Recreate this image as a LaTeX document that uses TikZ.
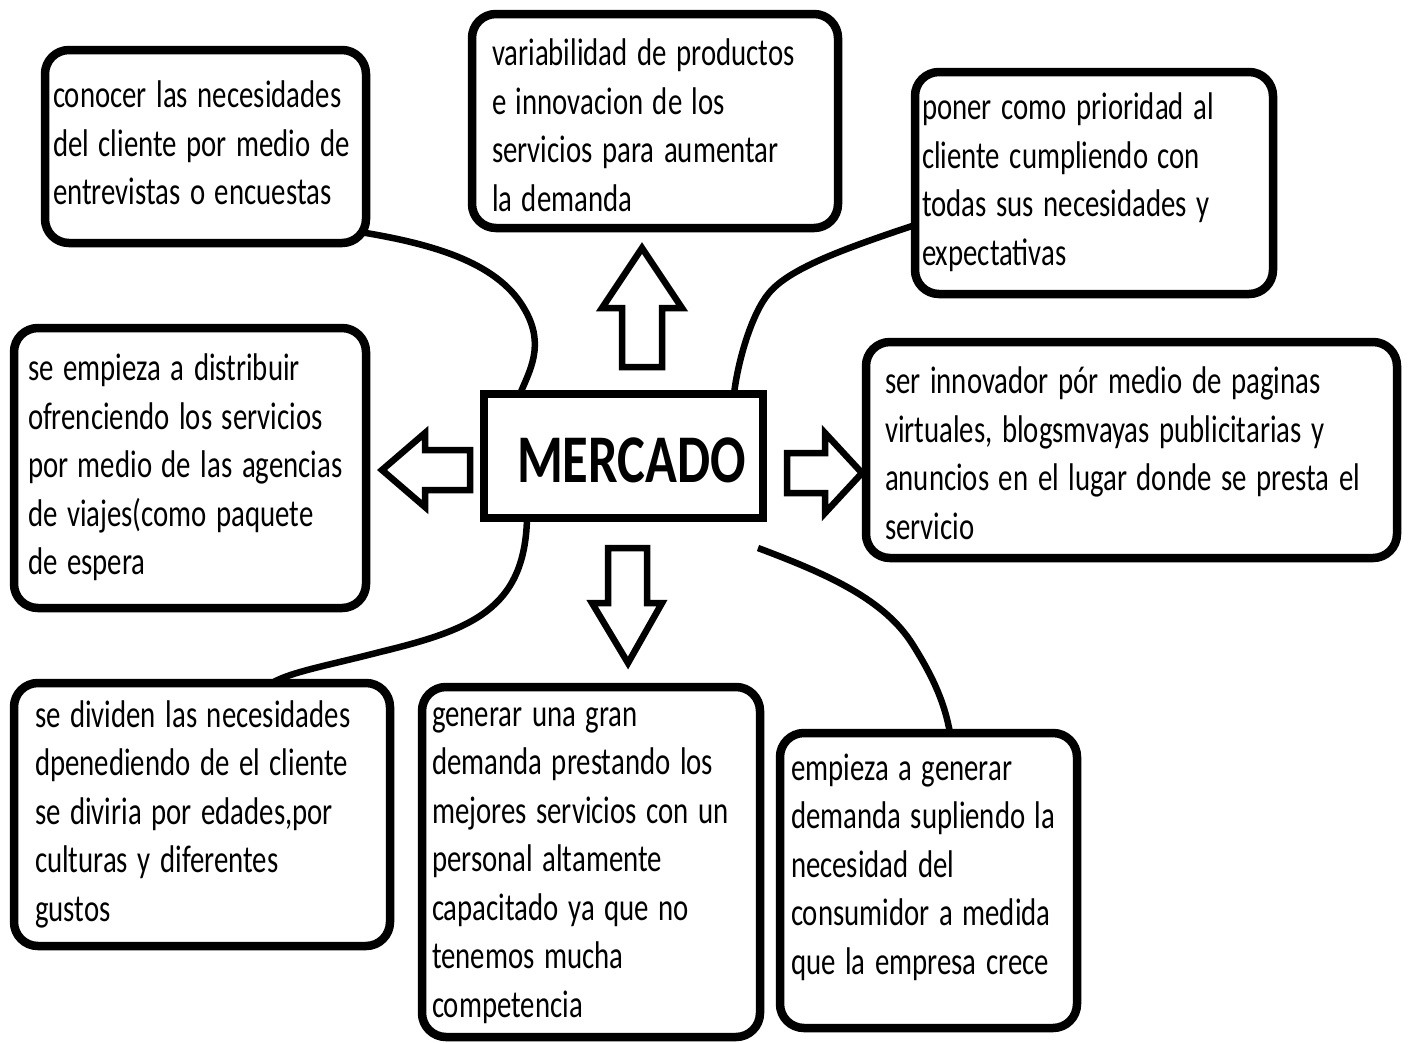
\documentclass[tikz,border=0pt]{standalone}
\usepackage{fontspec}
\setmainfont{Carlito}
\usetikzlibrary{calc}
\newcommand{\estirado}[2][0pt]{\raisebox{#1}[\height][\depth]{\scalebox{1}[1.34]{\begin{tabular}{@{}l@{}}#2\end{tabular}}}}

\tikzset{
  burbuja/.style={draw, line width=8.5pt, rounded corners=24pt, outer sep=0pt,
    align=left, inner ysep=0pt, font=\fontsize{28.8}{36.2}\selectfont},
  enlace/.style={line width=6.5pt},
  flecha/.style={draw, line width=6.5pt, line join=miter, fill=white},
}

\begin{document}
\begin{tikzpicture}[x=1pt,y=-1pt]
    \useasboundingbox (0,0) rectangle (1408,1042);
    % centro
    \node[draw, line width=8.5pt, outer sep=0pt, minimum width=279pt, minimum height=124pt,
      text height=52pt, text depth=0pt, font=\fontsize{52.5}{60}\bfseries\selectfont] (mercado) at (623.5,456)
      {\hspace{16pt}\scalebox{1}[1.3]{MERCADO}};
    % cajas
    \node[burbuja, text width=305pt, inner xsep=8pt, minimum height=193pt] (conocer) at (205.5,146.5)
      {\estirado{conocer las necesidades\\del cliente por medio de\\entrevistas o encuestas}};
    \node[burbuja, text width=326pt, inner xsep=20pt, minimum height=214pt] (variabilidad) at (655,121)
      {\estirado[-8pt]{variabilidad de productos\\e innovacion de los\\servicios para aumentar\\la demanda}};
    \node[burbuja, text width=344pt, inner xsep=7pt, minimum height=222pt] (prioridad) at (1094,183)
      {\estirado{poner como prioridad al\\cliente cumpliendo con\\todas sus necesidades y\\expectativas}};
    \node[burbuja, text width=324pt, inner xsep=14pt, minimum height=280pt] (distribuir) at (190,468)
      {\estirado{se empieza a distribuir\\ofrenciendo los servicios\\por medio de las agencias\\de viajes(como paquete\\de espera}};
    \node[burbuja, text width=493pt, inner xsep=19pt, minimum height=216pt] (innovador) at (1131.5,450)
      {\estirado[-7pt]{ser innovador pór medio de paginas\\virtuales, blogsmvayas publicitarias y\\anuncios en el lugar donde se presta el\\servicio}};
    \node[burbuja, text width=334pt, inner xsep=21pt, minimum height=263pt] (dividen) at (202,814.5)
      {\estirado{se dividen las necesidades\\dpenediendo de el cliente\\se diviria por edades,por\\culturas y diferentes\\gustos}};
    \node[burbuja, text width=318pt, inner xsep=10pt, minimum height=350pt] (generar) at (591,862)
      {\estirado{generar una gran\\demanda prestando los\\mejores servicios con un\\personal altamente\\capacitado ya que no\\tenemos mucha\\competencia}};
    \node[burbuja, text width=275pt, inner xsep=11pt, minimum height=295pt] (empieza) at (928.5,880.5)
      {\estirado[13pt]{empieza a generar\\demanda supliendo la\\necesidad del\\consumidor a medida\\que la empresa crece}};
    % lineas
    \coordinate (cola) at (758,548);
    \draw[enlace] ($(conocer.south east)+(-6,-11)$) .. controls (440,245) and (500,265) .. (525,310)
      .. controls (545,345) and (530,370) .. ($(mercado.north west)+(36,0)$);
    \draw[enlace] ($(prioridad.west)+(0,42)$) .. controls (840,250) and (789,269) .. (769,293)
      .. controls (752,313) and (738,360) .. ($(mercado.north east)+(-29,0)$);
    \draw[enlace] ($(mercado.south west)+(43,0)$) .. controls (525,610) and (470,630) .. (380,652)
      .. controls (330,665) and (290,672) .. ($(dividen.north west)+(258,0)$);
    \draw[enlace] (cola) .. controls (830,575) and (885,600) .. (913,645)
      .. controls (935,680) and (945,705) .. ($(empieza.north west)+(170,0)$);
    % flechas
    \draw[flecha] (622,367) -- (622,308) -- (602,308) -- (642,248) -- (682,308) -- (662,308) -- (662,367) -- cycle;
    \draw[flecha] (470,450) -- (425,450) -- (425,433) -- (382,470) -- (425,507) -- (425,490) -- (470,490) -- cycle;
    \draw[flecha] (787,453) -- (825,453) -- (825,433) -- (862,473) -- (825,513) -- (825,493) -- (787,493) -- cycle;
    \draw[flecha] (608,548) -- (647,548) -- (647,603) -- (662,603) -- (628,663) -- (592,603) -- (608,603) -- cycle;
\end{tikzpicture}
\end{document}
